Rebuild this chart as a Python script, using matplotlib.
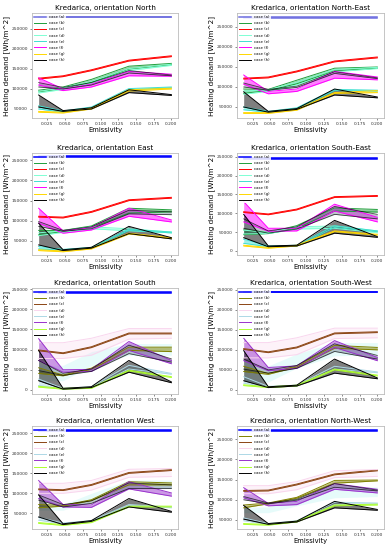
import matplotlib
matplotlib.use("Agg")
import matplotlib.pyplot as plt
import numpy as np

emissivity = [0.0125, 0.047, 0.087, 0.14, 0.2]
cases = ['a', 'b', 'c', 'd', 'e', 'f', 'g', 'h']
labels = ['case (a)', 'case (b)', 'case (c)', 'case (d)', 'case (e)', 'case (f)', 'case (g)', 'case (h)']
titles = ['North', 'North-East', 'East', 'South-East', 'South', 'South-West', 'West', 'North-West']

colors_top = {'a': 'blue', 'b': '#1f9e3a', 'c': 'red', 'd': 'aquamarine', 'e': 'turquoise',
              'f': 'magenta', 'g': 'gold', 'h': 'black'}
colors_bottom = {'a': 'blue', 'b': 'olive', 'c': 'saddlebrown', 'd': '#f9d6ee', 'e': 'lightblue',
                 'f': 'darkorchid', 'g': 'greenyellow', 'h': 'black'}

# values in thousands of Wh/m^2, each entry: (lower, upper)
# 'h2' = second black band, 'd2' = faint cyan band (bottom rows)
north = {
    'a': ([279, 279, 279, 279, 279], [281, 281, 281, 281, 281]),
    'b': ([93, 101, 117, 150, 161], [97, 105, 124, 157, 164]),
    'c': ([125, 131, 146, 170, 181], [127, 133, 148, 172, 183]),
    'd': ([90, 99, 114, 146, 159], [94, 103, 119, 151, 162]),
    'e': ([50, 42, 52, 98, 103], [58, 45, 55, 101, 105]),
    'f': ([110, 96, 105, 133, 132], [128, 100, 112, 144, 137]),
    'g': ([42, 40, 50, 95, 100], [44, 42, 52, 98, 102]),
    'h': ([55, 44, 50, 91, 84], [85, 46, 53, 98, 86]),
    'h2': ([105, 100, 110, 140, 133], [116, 104, 116, 146, 135]),
}
north_east = {
    'a': ([273, 273, 273, 273, 273], [275, 275, 275, 275, 275]),
    'b': ([84, 91, 108, 140, 147], [95, 94, 117, 147, 150]),
    'c': ([120, 123, 138, 163, 173], [122, 125, 140, 165, 175]),
    'd': ([82, 89, 105, 138, 146], [90, 93, 112, 144, 149]),
    'e': ([43, 37, 46, 91, 90], [50, 39, 48, 94, 92]),
    'f': ([107, 83, 89, 122, 118], [130, 89, 95, 139, 125]),
    'g': ([34, 34, 42, 84, 86], [36, 36, 44, 86, 91]),
    'h': ([50, 37, 44, 80, 73], [88, 39, 46, 95, 75]),
    'h2': ([100, 92, 99, 134, 121], [110, 94, 102, 138, 123]),
}
east = {
    'a': ([258, 258, 258, 258, 258], [260, 260, 260, 260, 260]),
    'b': ([65, 73, 83, 119, 122], [76, 76, 87, 131, 127]),
    'c': ([109, 107, 121, 150, 156], [111, 109, 123, 152, 158]),
    'd': ([63, 71, 80, 75, 70], [70, 75, 85, 80, 72]),
    'e': ([30, 27, 32, 76, 70], [36, 29, 34, 79, 72]),
    'f': ([94, 69, 77, 111, 97], [131, 75, 83, 131, 102]),
    'g': ([26, 23, 30, 67, 56], [28, 25, 32, 69, 58]),
    'h': ([40, 26, 32, 68, 55], [94, 28, 34, 86, 58]),
    'h2': ([86, 74, 80, 117, 115], [98, 76, 85, 126, 122]),
}
south_east = {
    'a': ([245, 245, 245, 245, 245], [247, 247, 247, 247, 247]),
    'b': ([43, 46, 60, 106, 103], [56, 49, 67, 114, 110]),
    'c': ([102, 96, 109, 142, 145], [104, 98, 111, 144, 147]),
    'd': ([45, 46, 58, 60, 48], [55, 49, 64, 66, 53]),
    'e': ([20, 11, 13, 62, 51], [31, 13, 15, 67, 53]),
    'f': ([77, 52, 53, 106, 77], [131, 60, 60, 124, 89]),
    'g': ([13, 7, 13, 51, 42], [15, 9, 15, 53, 44]),
    'h': ([35, 11, 13, 47, 36], [97, 13, 15, 81, 38]),
    'h2': ([60, 47, 58, 97, 85], [85, 53, 64, 118, 97]),
}
south = {
    'a': ([241, 241, 241, 241, 241], [243, 243, 243, 243, 243]),
    'b': ([41, 35, 51, 98, 95], [55, 37, 54, 106, 106]),
    'c': ([97, 90, 105, 139, 139], [99, 92, 107, 141, 141]),
    'd': ([78, 78, 86, 126, 128], [117, 117, 128, 152, 152]),
    'e': ([11, 2, 6, 52, 39], [27, 4, 8, 61, 41]),
    'f': ([73, 44, 46, 98, 65], [127, 50, 51, 120, 73]),
    'g': ([7, 2, 4, 47, 31], [9, 4, 6, 49, 33]),
    'h': ([23, 2, 6, 44, 18], [98, 4, 8, 73, 20]),
    'h2': ([48, 36, 46, 90, 69], [73, 41, 52, 111, 77]),
    'd2': ([23, 23, 60, 86, 86], [61, 61, 95, 115, 115]),
}
south_west = {
    'a': ([243, 243, 243, 243, 243], [245, 245, 245, 245, 245]),
    'b': ([46, 39, 57, 104, 100], [59, 41, 60, 111, 106]),
    'c': ([101, 93, 105, 140, 143], [103, 95, 107, 142, 145]),
    'd': ([80, 80, 88, 128, 130], [118, 118, 130, 154, 154]),
    'e': ([17, 7, 10, 52, 43], [33, 9, 12, 59, 45]),
    'f': ([73, 48, 54, 106, 73], [129, 56, 60, 123, 81]),
    'g': ([11, 6, 10, 50, 35], [13, 8, 12, 52, 37]),
    'h': ([23, 6, 10, 42, 28], [98, 8, 12, 77, 30]),
    'h2': ([52, 42, 54, 96, 77], [77, 50, 61, 115, 86]),
    'd2': ([20, 20, 55, 85, 88], [60, 60, 90, 118, 118]),
}
west = {
    'a': ([256, 256, 256, 256, 256], [258, 258, 258, 258, 258]),
    'b': ([64, 68, 82, 121, 121], [72, 70, 84, 129, 126]),
    'c': ([109, 107, 120, 150, 157], [111, 109, 122, 152, 159]),
    'd': ([100, 100, 108, 140, 142], [125, 125, 132, 160, 162]),
    'e': ([33, 24, 30, 70, 64], [40, 26, 32, 72, 66]),
    'f': ([87, 66, 65, 111, 93], [132, 72, 71, 129, 101]),
    'g': ([25, 20, 27, 66, 66], [27, 22, 29, 68, 68]),
    'h': ([41, 22, 30, 66, 53], [96, 24, 32, 87, 55]),
    'h2': ([83, 66, 75, 112, 112], [96, 72, 81, 126, 121]),
    'd2': ([58, 58, 80, 112, 112], [72, 72, 100, 133, 133]),
}
north_west = {
    'a': ([271, 271, 271, 271, 271], [273, 273, 273, 273, 273]),
    'b': ([80, 90, 104, 141, 147], [87, 92, 106, 148, 149]),
    'c': ([121, 122, 137, 162, 172], [123, 124, 139, 164, 174]),
    'd': ([115, 115, 125, 155, 158], [135, 135, 145, 172, 175]),
    'e': ([48, 39, 46, 88, 90], [55, 41, 48, 94, 92]),
    'f': ([105, 85, 88, 126, 117], [130, 91, 96, 140, 126]),
    'g': ([39, 37, 45, 85, 87], [41, 39, 47, 87, 89]),
    'h': ([52, 39, 45, 80, 74], [86, 41, 47, 96, 76]),
    'h2': ([100, 90, 99, 131, 122], [108, 92, 101, 140, 124]),
    'd2': ([68, 68, 85, 105, 108], [82, 82, 105, 130, 132]),
}
panels = [north, north_east, east, south_east, south, south_west, west, north_west]
ylims = [(27500, 290000), (22500, 285000), (15000, 268000), (-11000, 260000),
         (-10000, 252500), (-10000, 254000), (11000, 268000), (27500, 283000)]

# axes boxes in pixels: (left, top, right, bottom)
boxes = [(32, 13, 178, 118), (237, 13, 384, 118),
         (32, 153, 178, 255), (237, 153, 384, 255),
         (32, 288, 178, 394), (237, 288, 384, 394),
         (32, 426, 178, 529), (237, 426, 384, 529)]

W, H = 390, 550
fig = plt.figure(figsize=(W / 100, H / 100), dpi=100)

x = np.array(emissivity)
for i, (data, title, box, yl) in enumerate(zip(panels, titles, boxes, ylims)):
    l, t, r, b = box
    ax = fig.add_axes([l / W, 1 - b / H, (r - l) / W, (b - t) / H])
    cols = colors_top if i < 4 else colors_bottom
    if 'd2' in data:
        lo = np.array(data['d2'][0]) * 1000
        hi = np.array(data['d2'][1]) * 1000
        ax.fill_between(x, lo, hi, color='#c8f7f4', alpha=0.45, lw=0)
    for key, lab in zip(cases, labels):
        lo = np.array(data[key][0]) * 1000
        hi = np.array(data[key][1]) * 1000
        c = cols[key]
        if key == 'a' and i < 2:
            c = '#6f6fe0'
        fa = 0.3 if (key == 'd' and i >= 4) else 0.5
        lw = 1.1 if key == 'a' else 0.7
        ax.plot(x, lo, color=c, lw=lw, label=lab)
        ax.plot(x, hi, color=c, lw=lw)
        ax.fill_between(x, lo, hi, color=c, alpha=fa, lw=0)
    lo = np.array(data['h2'][0]) * 1000
    hi = np.array(data['h2'][1]) * 1000
    ax.plot(x, lo, color='black', lw=0.6, alpha=0.7)
    ax.plot(x, hi, color='black', lw=0.6, alpha=0.7)
    ax.fill_between(x, lo, hi, color='slategray', alpha=0.45, lw=0)

    ax.set_ylim(*yl)
    ax.set_xticks([0.025, 0.05, 0.075, 0.1, 0.125, 0.15, 0.175, 0.2])
    ax.set_xticklabels(['0.025', '0.050', '0.075', '0.100', '0.125', '0.150', '0.175', '0.200'])
    ax.ticklabel_format(axis='y', style='plain')
    ax.tick_params(labelsize=3.2, length=1.5, width=0.4, pad=1.5, colors='#333333')
    for s in ax.spines.values():
        s.set_color('#bbbbbb')
        s.set_linewidth(0.6)
    ax.set_title('Kredarica, orientation ' + title, fontsize=5.2, pad=2.5)
    ax.set_xlabel('Emissivity', fontsize=4.9, labelpad=0.5)
    ax.set_ylabel('Heating demand [Wh/m^2]', fontsize=5.2, labelpad=1)
    leg = ax.legend(loc='upper left', fontsize=2.8, frameon=True, handlelength=3.0,
                    labelspacing=0.55, borderaxespad=0.25, handletextpad=0.8,
                    borderpad=0.3)
    leg.get_frame().set_facecolor('white')
    leg.get_frame().set_edgecolor('none')
    leg.get_frame().set_alpha(0.85)

fig.savefig('out.png', dpi=100)
